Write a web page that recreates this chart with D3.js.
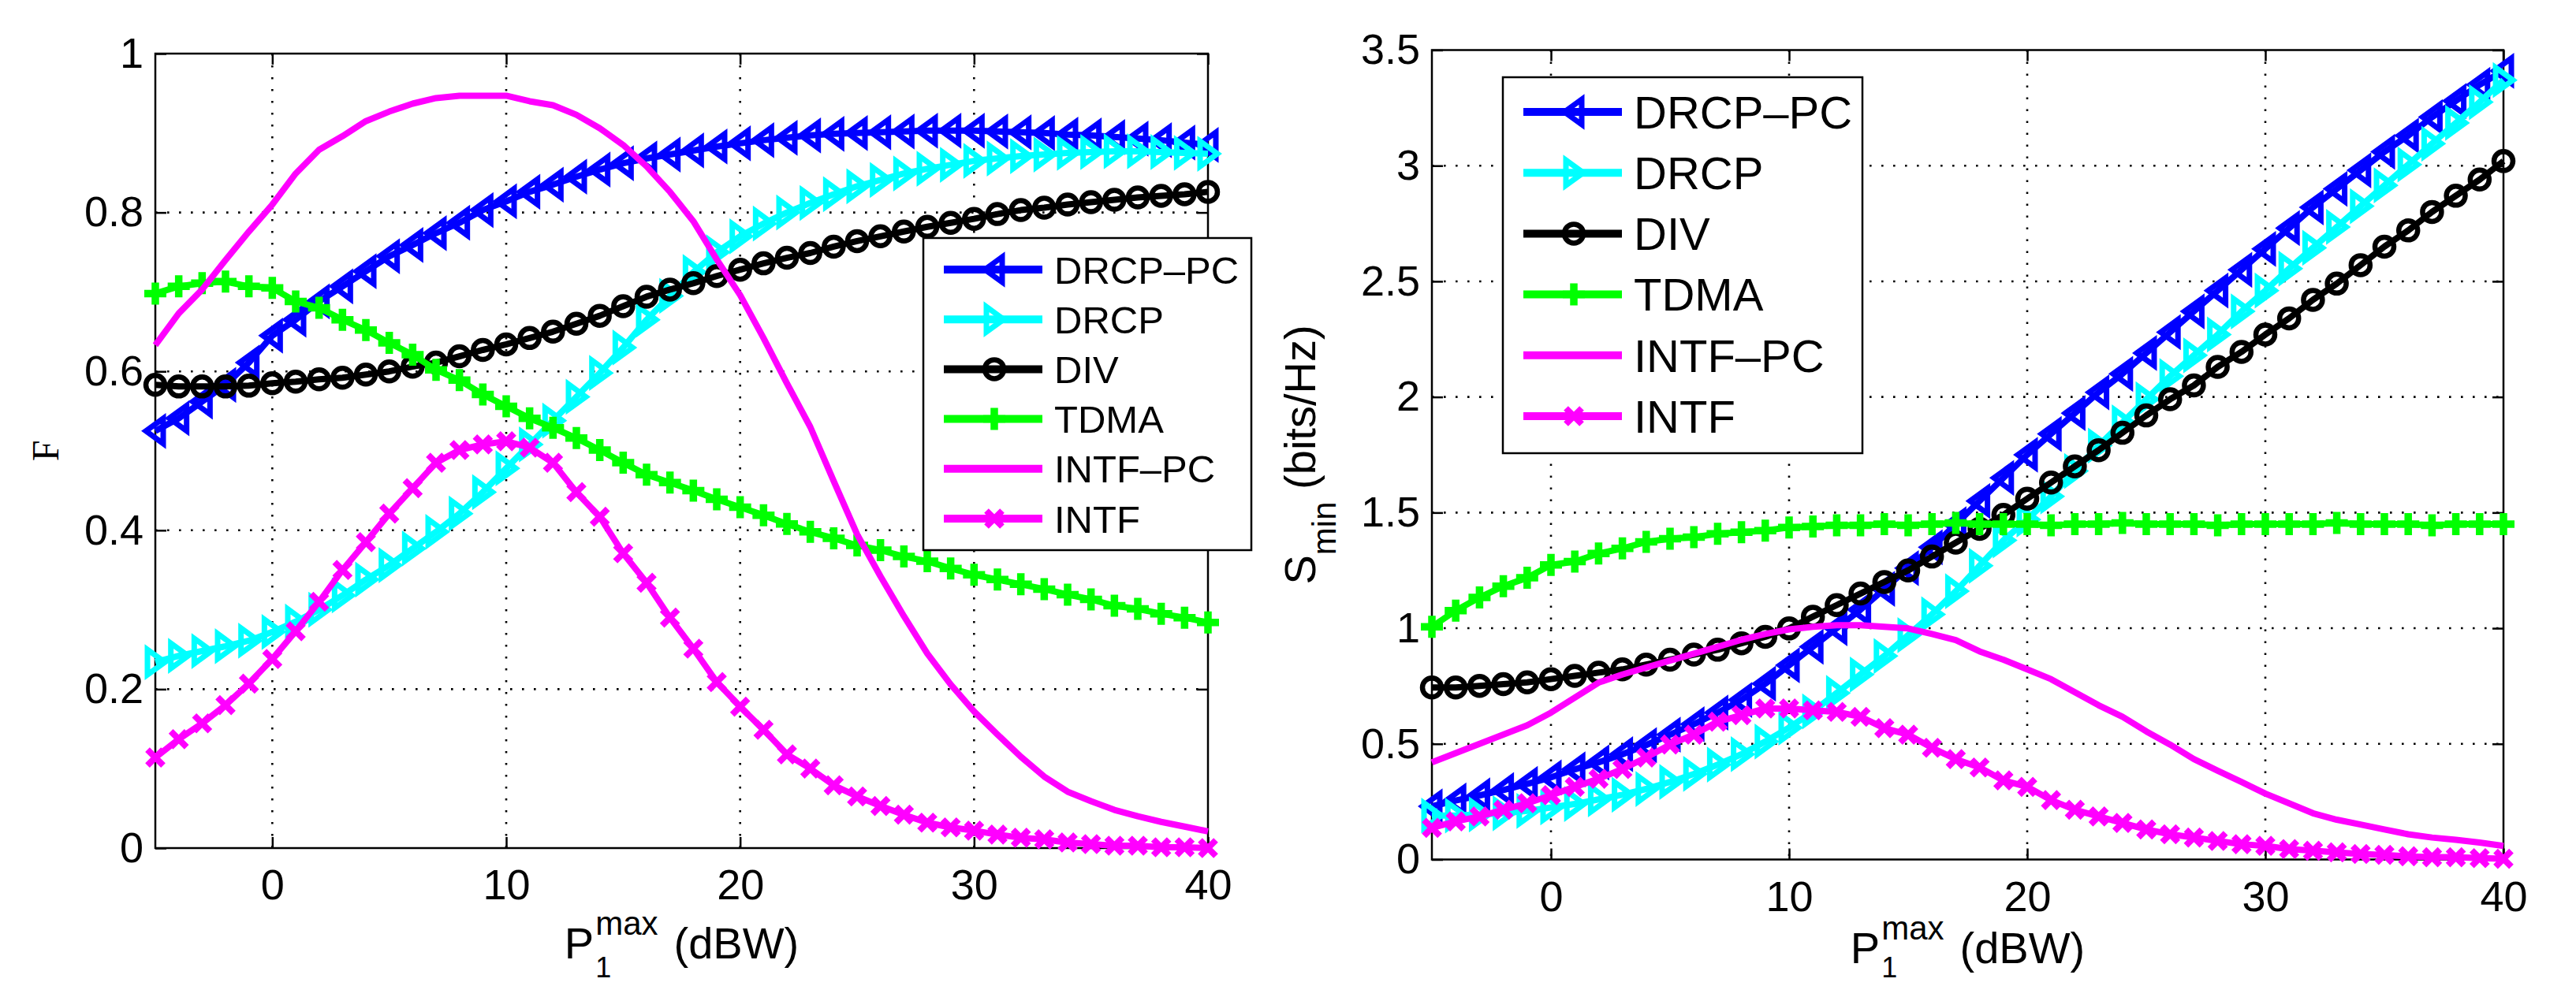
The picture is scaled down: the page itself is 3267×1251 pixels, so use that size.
<!DOCTYPE html>
<html>
<head>
<meta charset="utf-8">
<script src="https://cdn.jsdelivr.net/npm/d3@7"></script>
<style>
  body { margin: 0; background: #fff; }
  svg { display: block; font-family: "Liberation Sans", Arial, Helvetica, sans-serif; }
  text { white-space: pre; }
</style>
</head>
<body>
<div id="chart"></div>
<script>
const width = 3267, height = 1251;

// P1max (dBW) sample points
const powerDBW = [-5, -4, -3, -2, -1, 0, 1, 2, 3, 4, 5, 6, 7, 8, 9, 10, 11, 12, 13, 14, 15,
  16, 17, 18, 19, 20, 21, 22, 23, 24, 25, 26, 27, 28, 29, 30, 31, 32, 33, 34, 35, 36, 37, 38, 39, 40];
const xTickValues = [0, 10, 20, 30, 40];
const fairnessTicks = [0, 0.2, 0.4, 0.6, 0.8, 1];
const rateTicks = [0, 0.5, 1, 1.5, 2, 2.5, 3, 3.5];

const seriesNames = ["DRCP\u2013PC", "DRCP", "DIV", "TDMA", "INTF\u2013PC", "INTF"];
const seriesColors = ["#0000ff", "#00ffff", "#000000", "#00ff00", "#ff00ff", "#ff00ff"];
const seriesMarkers = ["<", ">", "o", "+", "none", "x"];

// left panel: fairness F
const fairDRCPPC = [0.525, 0.541, 0.562, 0.583, 0.611, 0.645, 0.665, 0.688, 0.707, 0.726, 0.745, 0.759, 0.774, 0.787, 0.803, 0.814, 0.826, 0.835, 0.845, 0.854, 0.862,
  0.868, 0.873, 0.878, 0.883, 0.887, 0.891, 0.894, 0.897, 0.899, 0.900, 0.901, 0.902, 0.903, 0.903, 0.903, 0.902, 0.901, 0.900, 0.898, 0.897, 0.895, 0.893, 0.891, 0.888, 0.885];
const fairDRCP = [0.234, 0.242, 0.248, 0.254, 0.261, 0.272, 0.285, 0.300, 0.318, 0.338, 0.356, 0.377, 0.398, 0.421, 0.448, 0.478, 0.508, 0.538, 0.568, 0.598, 0.630,
  0.665, 0.695, 0.725, 0.750, 0.770, 0.786, 0.800, 0.812, 0.823, 0.833, 0.841, 0.849, 0.855, 0.860, 0.865, 0.868, 0.871, 0.873, 0.875, 0.876, 0.877, 0.877, 0.876, 0.875, 0.874];
const fairDIV = [0.583, 0.581, 0.581, 0.581, 0.582, 0.585, 0.587, 0.590, 0.592, 0.596, 0.600, 0.606, 0.611, 0.619, 0.627, 0.634, 0.642, 0.650, 0.660, 0.670, 0.682,
  0.694, 0.703, 0.711, 0.720, 0.728, 0.736, 0.743, 0.749, 0.757, 0.764, 0.770, 0.776, 0.782, 0.787, 0.792, 0.798, 0.803, 0.806, 0.810, 0.813, 0.816, 0.819, 0.821, 0.823, 0.826];
const fairTDMA = [0.698, 0.707, 0.711, 0.713, 0.707, 0.705, 0.688, 0.680, 0.665, 0.652, 0.636, 0.621, 0.602, 0.589, 0.571, 0.556, 0.541, 0.529, 0.516, 0.501, 0.485,
  0.470, 0.460, 0.450, 0.439, 0.429, 0.419, 0.408, 0.398, 0.390, 0.381, 0.375, 0.367, 0.361, 0.352, 0.344, 0.338, 0.332, 0.326, 0.319, 0.313, 0.305, 0.301, 0.295, 0.290, 0.284];
const fairINTFPC = [0.633, 0.673, 0.703, 0.740, 0.776, 0.810, 0.849, 0.879, 0.896, 0.915, 0.927, 0.937, 0.944, 0.947, 0.947, 0.947, 0.940, 0.935, 0.923, 0.906, 0.885,
  0.858, 0.826, 0.789, 0.741, 0.696, 0.642, 0.585, 0.530, 0.462, 0.395, 0.342, 0.292, 0.245, 0.206, 0.172, 0.143, 0.115, 0.090, 0.071, 0.059, 0.048, 0.040, 0.033, 0.027, 0.021];
const fairINTF = [0.114, 0.137, 0.157, 0.180, 0.207, 0.238, 0.273, 0.310, 0.350, 0.385, 0.421, 0.453, 0.485, 0.501, 0.508, 0.512, 0.504, 0.485, 0.448, 0.417, 0.371,
  0.334, 0.290, 0.251, 0.209, 0.178, 0.149, 0.118, 0.100, 0.079, 0.065, 0.053, 0.042, 0.032, 0.026, 0.022, 0.017, 0.013, 0.011, 0.007, 0.005, 0.003, 0.003, 0.001, 0.001, 0.000];

// right panel: S_min (bits/Hz)
const rateDRCPPC = [0.23, 0.255, 0.277, 0.30, 0.327, 0.355, 0.39, 0.42, 0.455, 0.495, 0.54, 0.585, 0.635, 0.69, 0.76, 0.84, 0.92, 1.0, 1.08, 1.17, 1.26,
  1.35, 1.45, 1.55, 1.65, 1.75, 1.84, 1.93, 2.02, 2.10, 2.19, 2.28, 2.37, 2.46, 2.55, 2.64, 2.73, 2.82, 2.90, 2.98, 3.06, 3.13, 3.21, 3.28, 3.35, 3.41];
const rateDRCP = [0.19, 0.19, 0.195, 0.20, 0.21, 0.225, 0.24, 0.26, 0.28, 0.305, 0.335, 0.37, 0.41, 0.455, 0.51, 0.57, 0.64, 0.72, 0.80, 0.88, 0.97,
  1.06, 1.16, 1.27, 1.38, 1.47, 1.57, 1.68, 1.79, 1.89, 1.99, 2.09, 2.18, 2.27, 2.37, 2.46, 2.555, 2.645, 2.735, 2.825, 2.915, 3.005, 3.095, 3.185, 3.275, 3.37];
const rateDIV = [0.744, 0.744, 0.751, 0.758, 0.766, 0.78, 0.794, 0.808, 0.822, 0.843, 0.864, 0.886, 0.907, 0.935, 0.963, 0.999, 1.05, 1.10, 1.15, 1.20, 1.25,
  1.31, 1.37, 1.43, 1.49, 1.56, 1.63, 1.70, 1.77, 1.845, 1.92, 1.99, 2.05, 2.13, 2.195, 2.27, 2.34, 2.42, 2.49, 2.57, 2.65, 2.72, 2.80, 2.87, 2.94, 3.02];
const rateTDMA = [1.006, 1.076, 1.133, 1.182, 1.218, 1.274, 1.288, 1.323, 1.345, 1.373, 1.387, 1.394, 1.408, 1.415, 1.422, 1.436, 1.44, 1.445, 1.445, 1.45, 1.445,
  1.45, 1.455, 1.45, 1.45, 1.45, 1.445, 1.45, 1.45, 1.455, 1.45, 1.45, 1.45, 1.445, 1.45, 1.45, 1.45, 1.45, 1.455, 1.45, 1.45, 1.45, 1.445, 1.45, 1.45, 1.45];
const rateINTFPC = [0.42, 0.46, 0.50, 0.54, 0.58, 0.635, 0.70, 0.765, 0.80, 0.83, 0.86, 0.89, 0.92, 0.95, 0.975, 0.995, 1.006, 1.013, 1.013, 1.006, 0.999,
  0.975, 0.949, 0.90, 0.864, 0.822, 0.78, 0.723, 0.667, 0.617, 0.554, 0.497, 0.434, 0.384, 0.335, 0.285, 0.243, 0.20, 0.172, 0.151, 0.13, 0.109, 0.095, 0.085, 0.073, 0.059];
const rateINTF = [0.137, 0.165, 0.186, 0.215, 0.243, 0.278, 0.314, 0.349, 0.391, 0.441, 0.497, 0.54, 0.596, 0.624, 0.653, 0.653, 0.645, 0.638, 0.617, 0.568, 0.54,
  0.483, 0.434, 0.398, 0.342, 0.314, 0.257, 0.215, 0.186, 0.158, 0.13, 0.109, 0.095, 0.08, 0.066, 0.059, 0.045, 0.038, 0.031, 0.024, 0.02, 0.014, 0.01, 0.01, 0.006, 0.003];

const panels = [
  {
    series: [fairDRCPPC, fairDRCP, fairDIV, fairTDMA, fairINTFPC, fairINTF],
    yTicks: fairnessTicks, yMax: 1,
    left: 197, right: 1532, top: 68, bottom: 1076,
    legend: { x: 1171, y: 302, w: 416, h: 396, first: 40, step: 63.2, font: 49 },
    xLabelBase: 1216
  },
  {
    series: [rateDRCPPC, rateDRCP, rateDIV, rateTDMA, rateINTFPC, rateINTF],
    yTicks: rateTicks, yMax: 3.5,
    left: 1816, right: 3175, top: 63.5, bottom: 1090.5,
    legend: { x: 1906, y: 98, w: 456, h: 477, first: 44, step: 77.2, font: 58 },
    xLabelBase: 1222
  }
];

const svg = d3.select("#chart").append("svg")
  .attr("width", width)
  .attr("height", height);
svg.append("rect").attr("width", width).attr("height", height).attr("fill", "#fff");

// marker shapes, centred on the data point
function markerPath(type) {
  switch (type) {
    case "<": return "M-12,0L10,-16L10,16Z";
    case ">": return "M12,0L-10,-16L-10,16Z";
    case "o": return "M12,0A12,12 0 1,1 -12,0A12,12 0 1,1 12,0Z";
    case "+": return "M-14,0H14M0,-14V14";
    case "x": return "M-10,-10L10,10M-10,10L10,-10";
  }
  return null;
}
const markerWidth = { "<": 7, ">": 7, "o": 6.5, "+": 9.5, "x": 8 };

function drawMarkers(g, pts, type, color) {
  if (type === "none") return;
  g.selectAll("path.mk")
    .data(pts)
    .join("path")
    .attr("class", "mk")
    .attr("d", markerPath(type))
    .attr("transform", d => `translate(${d[0]},${d[1]})`)
    .attr("fill", "none")
    .attr("stroke", color)
    .attr("stroke-width", markerWidth[type])
    .attr("stroke-linejoin", "miter");
}

function drawPanel(p) {
  const xScale = d3.scaleLinear().domain([-5, 40]).range([p.left, p.right]);
  const yScale = d3.scaleLinear().domain([0, p.yMax]).range([p.bottom, p.top]);
  const g = svg.append("g");

  // Dotted grid
  const gridStyle = s => s.attr("stroke", "#000").attr("stroke-width", 2.6)
    .attr("stroke-dasharray", "2.6,12.4").attr("fill", "none");
  g.append("g").selectAll("line")
    .data(xTickValues.filter(v => v > -5 && v < 40))
    .join("line")
    .attr("x1", d => xScale(d)).attr("x2", d => xScale(d))
    .attr("y1", p.top).attr("y2", p.bottom)
    .call(gridStyle);
  g.append("g").selectAll("line")
    .data(p.yTicks.filter(v => v > 0 && v < p.yMax))
    .join("line")
    .attr("x1", p.left).attr("x2", p.right)
    .attr("y1", d => yScale(d)).attr("y2", d => yScale(d))
    .call(gridStyle);

  // Axes: inward ticks on all four sides
  const fmt = d => String(d);
  const xAxis = g.append("g")
    .attr("transform", `translate(0,${p.bottom})`)
    .call(d3.axisBottom(xScale).tickValues(xTickValues).tickSize(-14).tickPadding(27).tickFormat(fmt));
  const yAxis = g.append("g")
    .attr("transform", `translate(${p.left},0)`)
    .call(d3.axisLeft(yScale).tickValues(p.yTicks).tickSize(-14).tickPadding(15).tickFormat(fmt));
  const xTop = g.append("g")
    .attr("transform", `translate(0,${p.top})`)
    .call(d3.axisTop(xScale).tickValues(xTickValues).tickSize(-14).tickFormat(""));
  const yRight = g.append("g")
    .attr("transform", `translate(${p.right},0)`)
    .call(d3.axisRight(yScale).tickValues(p.yTicks).tickSize(-14).tickFormat(""));
  [xAxis, yAxis, xTop, yRight].forEach(a => {
    a.select(".domain").remove();
    a.selectAll(".tick line").attr("stroke", "#000").attr("stroke-width", 2.5);
    a.selectAll(".tick text").attr("font-size", 54).attr("fill", "#000")
      .attr("font-family", "'Liberation Sans', Arial, sans-serif");
  });

  g.append("rect")
    .attr("x", p.left).attr("y", p.top)
    .attr("width", p.right - p.left).attr("height", p.bottom - p.top)
    .attr("fill", "none").attr("stroke", "#000").attr("stroke-width", 2.5);

  // Series: line then markers, in plotting order
  const line = d3.line().x(d => d[0]).y(d => d[1]);
  p.series.forEach((vals, i) => {
    const pts = vals.map((v, j) => [xScale(powerDBW[j]), yScale(v)]);
    const sg = g.append("g");
    sg.append("path")
      .attr("d", line(pts))
      .attr("fill", "none")
      .attr("stroke", seriesColors[i])
      .attr("stroke-width", 8)
      .attr("stroke-linejoin", "round");
    drawMarkers(sg, pts, seriesMarkers[i], seriesColors[i]);
  });

  // Legend
  const L = p.legend;
  const lg = g.append("g");
  lg.append("rect")
    .attr("x", L.x).attr("y", L.y).attr("width", L.w).attr("height", L.h)
    .attr("fill", "#fff").attr("stroke", "#000").attr("stroke-width", 2.5);
  seriesNames.forEach((name, i) => {
    const cy = L.y + L.first + i * L.step;
    const row = lg.append("g");
    row.append("line")
      .attr("x1", L.x + 26).attr("x2", L.x + 151)
      .attr("y1", cy).attr("y2", cy)
      .attr("stroke", seriesColors[i]).attr("stroke-width", 10);
    drawMarkers(row, [[L.x + 90, cy]], seriesMarkers[i], seriesColors[i]);
    row.append("text")
      .attr("x", L.x + 166).attr("y", cy)
      .attr("dy", "0.36em")
      .attr("font-size", L.font)
      .text(name);
  });

  // x-axis label: P_1^max (dBW)
  const xl = g.append("g");
  const base = p.xLabelBase;
  const tP = xl.append("text").attr("x", 0).attr("y", base).attr("font-size", 56).text("P");
  const wP = tP.node().getComputedTextLength();
  const tMax = xl.append("text").attr("x", wP + 2).attr("y", base - 30).attr("font-size", 42).text("max");
  const wMax = tMax.node().getComputedTextLength();
  xl.append("text").attr("x", wP + 2).attr("y", Math.min(base + 30, height - 11)).attr("font-size", 36).text("1");
  const tUnit = xl.append("text").attr("x", wP + 2 + wMax + 20).attr("y", base).attr("font-size", 56).text("(dBW)");
  const total = wP + 2 + wMax + 20 + tUnit.node().getComputedTextLength();
  xl.attr("transform", `translate(${(p.left + p.right) / 2 - total / 2},0)`);

  return g;
}

panels.forEach(drawPanel);

// y-axis labels
svg.append("text")
  .attr("transform", `translate(74,${(panels[0].top + panels[0].bottom) / 2}) rotate(-90)`)
  .attr("text-anchor", "middle")
  .attr("font-family", "'Liberation Serif', 'Times New Roman', serif")
  .attr("font-size", 48)
  .text("F");

const yl = svg.append("text")
  .attr("transform", `translate(1668,${(panels[1].top + panels[1].bottom) / 2}) rotate(-90)`)
  .attr("text-anchor", "middle")
  .attr("font-size", 56);
yl.append("tspan").text("S");
yl.append("tspan").attr("font-size", 42).attr("dy", 26).text("min");
yl.append("tspan").attr("dy", -26).text(" (bits/Hz)");
</script>
</body>
</html>
